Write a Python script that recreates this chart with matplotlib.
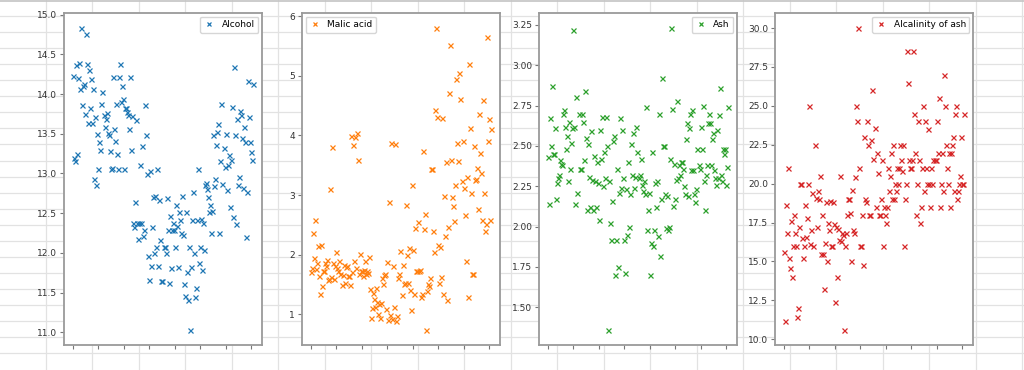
import numpy as np
import matplotlib
matplotlib.use("Agg")
import matplotlib.pyplot as plt
from matplotlib.ticker import MultipleLocator

# wine samples 0..177
alcohol = [
    14.23, 13.2, 13.16, 14.37, 13.24, 14.2, 14.39, 14.06, 14.83, 13.86, 14.1, 14.12, 13.75, 14.75, 14.38,
    13.63, 14.3, 13.83, 14.19, 13.64, 14.06, 12.93, 13.71, 12.85, 13.5, 13.05, 13.39, 13.3, 13.87, 14.02,
    13.73, 13.58, 13.68, 13.76, 13.51, 13.48, 13.28, 13.05, 13.07, 14.22, 13.56, 13.41, 13.88, 13.24, 13.05,
    14.21, 14.38, 13.9, 14.1, 13.94, 13.05, 13.83, 13.82, 13.77, 13.74, 13.56, 14.22, 13.29, 13.72,
    12.37, 12.33, 12.64, 13.67, 12.37, 12.17, 12.37, 13.11, 12.37, 13.34, 12.21, 12.29, 13.86, 13.49, 12.99,
    11.96, 11.66, 13.03, 11.84, 12.33, 12.7, 12.0, 12.72, 12.08, 13.05, 11.84, 12.67, 12.16, 11.65, 11.64,
    12.08, 12.08, 12.0, 12.69, 12.29, 11.62, 12.47, 11.81, 12.29, 12.37, 12.29, 12.08, 12.6, 12.34, 11.82,
    12.51, 12.42, 12.25, 12.72, 12.22, 11.61, 11.46, 12.52, 11.76, 11.41, 12.08, 11.03, 11.82, 12.42, 12.77,
    12.0, 11.45, 11.56, 12.42, 13.05, 11.87, 12.07, 12.43, 11.79, 12.37, 12.04,
    12.86, 12.88, 12.81, 12.7, 12.51, 12.6, 12.25, 12.53, 13.49, 12.84, 12.93, 13.36, 13.52, 13.62, 12.25,
    13.16, 13.88, 12.87, 13.32, 13.08, 13.5, 12.79, 13.11, 13.23, 12.58, 13.17, 13.84, 12.45, 14.34, 13.48,
    12.36, 13.69, 12.85, 12.96, 13.78, 13.73, 13.45, 12.82, 13.58, 13.4, 12.2, 12.77, 14.16, 13.71, 13.4,
    13.27, 13.17, 14.13,
]
malic_acid = [
    1.71, 1.78, 2.36, 1.95, 2.59, 1.76, 1.87, 2.15, 1.64, 1.35, 2.16, 1.48, 1.73, 1.73, 1.87,
    1.81, 1.92, 1.57, 1.59, 3.1, 1.63, 3.8, 1.86, 1.6, 1.81, 2.05, 1.77, 1.72, 1.9, 1.68,
    1.5, 1.66, 1.83, 1.53, 1.8, 1.81, 1.64, 1.65, 1.5, 3.99, 1.71, 3.84, 1.89, 3.98, 1.77,
    4.04, 3.59, 1.68, 2.02, 1.73, 1.73, 1.65, 1.75, 1.9, 1.67, 1.73, 1.7, 1.97, 1.43,
    0.94, 1.1, 1.36, 1.25, 1.13, 1.45, 1.21, 1.01, 1.17, 0.94, 1.19, 1.61, 1.51, 1.66, 1.67,
    1.09, 1.88, 0.9, 2.89, 0.99, 3.87, 0.92, 1.81, 1.13, 3.86, 0.89, 0.98, 1.61, 1.67, 2.06,
    1.33, 1.83, 1.51, 1.53, 2.83, 1.99, 1.52, 2.12, 1.41, 1.07, 3.17, 2.08, 1.34, 2.45, 1.72,
    1.73, 2.55, 1.73, 1.75, 1.29, 1.35, 3.74, 2.43, 2.68, 0.74, 1.39, 1.51, 1.47, 1.61, 3.43,
    3.43, 2.4, 2.05, 4.43, 5.8, 4.31, 2.16, 1.53, 2.13, 1.63, 4.3,
    1.35, 2.99, 2.31, 3.55, 1.24, 2.46, 4.72, 5.51, 3.59, 2.96, 2.81, 2.56, 3.17, 4.95, 3.88,
    3.57, 5.04, 4.61, 3.24, 3.9, 3.12, 2.67, 1.9, 3.3, 1.29, 5.19, 4.12, 3.03, 1.68, 1.67,
    3.83, 3.26, 3.27, 3.45, 2.76, 4.36, 3.7, 3.37, 2.58, 4.6, 3.03, 2.39, 2.51, 5.65, 3.91,
    4.28, 2.59, 4.1,
]
ash = [
    2.43, 2.14, 2.67, 2.5, 2.87, 2.45, 2.45, 2.61, 2.17, 2.27, 2.3, 2.32, 2.41, 2.39, 2.38,
    2.7, 2.72, 2.62, 2.48, 2.56, 2.28, 2.65, 2.36, 2.52, 2.61, 3.22, 2.62, 2.14, 2.8, 2.21,
    2.7, 2.36, 2.36, 2.7, 2.65, 2.41, 2.84, 2.55, 2.1, 2.51, 2.31, 2.12, 2.59, 2.29, 2.1,
    2.44, 2.28, 2.12, 2.4, 2.27, 2.04, 2.6, 2.42, 2.68, 2.25, 2.46, 2.3, 2.68, 2.5,
    1.36, 2.28, 2.02, 1.92, 2.16, 2.53, 2.56, 1.7, 1.92, 2.36, 1.75, 2.21, 2.67, 2.24, 2.6,
    2.3, 1.92, 1.71, 2.23, 1.95, 2.4, 2.0, 2.2, 2.51, 2.32, 2.58, 2.24, 2.31, 2.62, 2.46,
    2.3, 2.32, 2.42, 2.26, 2.22, 2.28, 2.2, 2.74, 1.98, 2.1, 2.21, 1.7, 1.9, 2.46, 1.88,
    1.98, 2.27, 2.12, 2.28, 1.94, 2.7, 1.82, 2.17, 2.92, 2.5, 2.5, 2.2, 1.99, 2.19, 1.98,
    2.0, 2.42, 3.23, 2.73, 2.13, 2.39, 2.17, 2.29, 2.78, 2.3, 2.38,
    2.32, 2.4, 2.4, 2.36, 2.25, 2.2, 2.54, 2.64, 2.19, 2.61, 2.7, 2.35, 2.72, 2.35, 2.2,
    2.15, 2.23, 2.48, 2.38, 2.36, 2.62, 2.48, 2.75, 2.28, 2.1, 2.32, 2.38, 2.64, 2.7, 2.64,
    2.38, 2.54, 2.58, 2.35, 2.3, 2.26, 2.6, 2.3, 2.69, 2.86, 2.32, 2.28, 2.48, 2.45, 2.48,
    2.26, 2.37, 2.74,
]
alcalinity = [
    15.6, 11.2, 18.6, 16.8, 21.0, 15.2, 14.6, 17.6, 14.0, 16.0, 18.0, 16.8, 16.0, 11.4, 12.0,
    17.2, 20.0, 20.0, 16.5, 15.2, 16.0, 18.6, 16.6, 17.8, 20.0, 25.0, 16.1, 17.0, 19.4, 16.0,
    22.5, 19.1, 17.2, 19.5, 19.0, 20.5, 15.5, 18.0, 15.5, 13.2, 16.2, 18.8, 15.0, 17.5, 17.0,
    18.9, 16.0, 16.0, 18.8, 17.4, 12.4, 17.2, 14.0, 17.1, 16.4, 20.5, 16.3, 16.8, 16.7,
    10.6, 16.0, 16.8, 18.0, 19.0, 19.0, 18.1, 15.0, 19.6, 17.0, 16.8, 20.4, 25.0, 24.0, 30.0,
    21.0, 16.0, 16.0, 18.0, 14.8, 23.0, 19.0, 18.8, 24.0, 22.5, 18.0, 18.0, 22.8, 26.0, 21.6,
    23.6, 18.5, 22.0, 20.7, 18.0, 18.0, 19.0, 21.5, 16.0, 18.5, 18.0, 17.5, 18.5, 21.0, 19.5,
    20.5, 22.0, 19.0, 22.5, 19.0, 20.0, 19.5, 21.0, 20.0, 21.0, 22.5, 21.5, 20.8, 22.5, 16.0,
    19.0, 20.0, 28.5, 26.5, 21.5, 21.0, 21.0, 21.5, 28.5, 24.5, 22.0,
    18.0, 20.0, 24.0, 21.5, 17.5, 18.5, 21.0, 25.0, 19.5, 24.0, 21.0, 20.0, 23.5, 20.0, 18.5,
    21.0, 20.0, 21.5, 21.5, 21.5, 24.0, 22.0, 25.5, 18.5, 20.0, 22.0, 19.5, 27.0, 25.0, 22.5,
    21.0, 20.0, 22.0, 18.5, 22.0, 22.5, 23.0, 19.5, 24.5, 25.0, 19.0, 19.5, 20.0, 20.5, 23.0,
    20.0, 20.0, 24.5,
]

series = [alcohol, malic_acid, ash, alcalinity]
names = ["Alcohol", "Malic acid", "Ash", "Alcalinity of ash"]
colors = ["tab:blue", "tab:orange", "tab:green", "tab:red"]
y_steps = [0.5, 1, 0.25, 2.5]
legend_locs = ["upper right", "upper left", "upper right", "upper right"]

# spreadsheet-like backdrop (pixel units)
bg_cols = 45.7 + 46.5 * np.arange(22)
bg_rows = 16.05 * np.arange(1, 23)

fig = plt.figure(figsize=(10.24, 3.7), dpi=100)
fig.patch.set_facecolor("white")

bg = fig.add_axes([0, 0, 1, 1], zorder=-1)
bg.set_xlim(0, 1024)
bg.set_ylim(370, 0)
bg.set_xticks(bg_cols)
bg.set_yticks(bg_rows)
bg.grid(True, color="#e2e2e2", lw=0.9)
bg.axhline(0.6, color="#c4c4c4", lw=1.2)
bg.tick_params(length=0, labelbottom=False, labelleft=False)
for sp in bg.spines.values():
    sp.set_visible(False)

lefts = [64, 302, 539, 775]
x = np.arange(len(alcohol))

for i, (vals, name, col) in enumerate(zip(series, names, colors)):
    ax = fig.add_axes([lefts[i] / 1024, 1 - 345 / 370, 198 / 1024, 332 / 370])
    ax.plot(x, vals, "x", color=col, ms=3.6, mew=0.9, label=name)
    ax.xaxis.set_major_locator(MultipleLocator(25))
    ax.yaxis.set_major_locator(MultipleLocator(y_steps[i]))
    ax.tick_params(axis="x", labelbottom=False, length=3, color="#777777")
    ax.tick_params(axis="y", labelsize=6.5, labelcolor="#333333", length=3,
                   color="#777777", pad=2)
    for sp in ax.spines.values():
        sp.set_color("#9a9a9a")
        sp.set_linewidth(1.3)
    ax.legend(loc=legend_locs[i], fontsize=6.5, handlelength=1.2,
              borderaxespad=0.4, markerscale=0.9)

fig.savefig("out.png", dpi=100)
